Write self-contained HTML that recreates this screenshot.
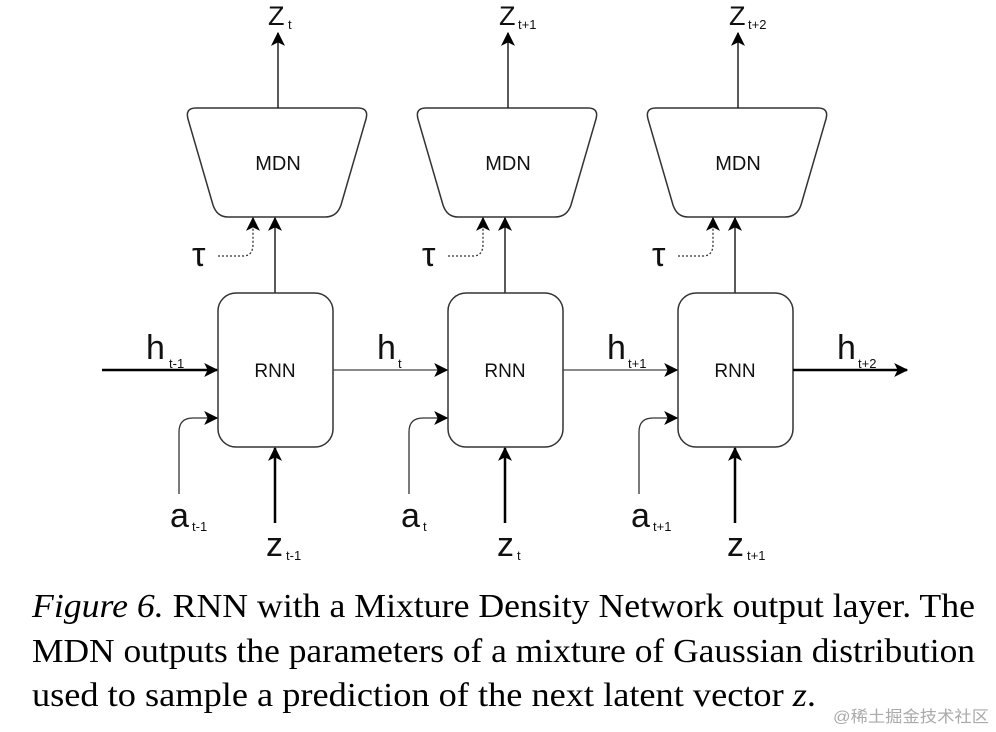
<!DOCTYPE html>
<html><head><meta charset="utf-8"><style>
html,body{margin:0;padding:0;background:#fff;}
svg{display:block;}
.s{font-family:"Liberation Sans",sans-serif;fill:#111;}
.c{font-family:"Liberation Serif",serif;fill:#000;font-size:34px;}
</style></head><body>
<svg width="996" height="732" viewBox="0 0 996 732" xmlns="http://www.w3.org/2000/svg">
<defs>
<marker id="ar" viewBox="0 0 12 12" refX="11" refY="6" markerWidth="14" markerHeight="14" markerUnits="userSpaceOnUse" orient="auto">
<path d="M0,0 L12,6 L0,12 L3,6 Z" fill="#000"/>
</marker>
<g id="col">
<path d="M196,108 H358 Q369,108 366,119 L341,205 Q337,217 325,217 H228 Q217,217 213,205 L188,119 Q185,108 196,108 Z" fill="#fff" stroke="#333" stroke-width="1.5"/>
<text class="s" x="278" y="170" font-size="20" text-anchor="middle">MDN</text>
<line x1="278" y1="108" x2="278" y2="33" stroke="#222" stroke-width="1.5" marker-end="url(#ar)"/>
<line x1="275" y1="293" x2="275" y2="218" stroke="#222" stroke-width="1.5" marker-end="url(#ar)"/>
<path d="M218,256 H243 Q253,256 253,244 V218" fill="none" stroke="#333" stroke-width="1.3" stroke-dasharray="2,2" marker-end="url(#ar)"/>
<text class="s" x="192" y="266" font-size="34">τ</text>
<rect x="218" y="293" width="115" height="154" rx="18" fill="#fff" stroke="#333" stroke-width="1.5"/>
<text class="s" x="275" y="377" font-size="19" text-anchor="middle">RNN</text>
<path d="M179,494 V432 Q179,418 193,418 H217" fill="none" stroke="#333" stroke-width="1.3" marker-end="url(#ar)"/>
<line x1="275" y1="523" x2="275" y2="448" stroke="#000" stroke-width="2.5" marker-end="url(#ar)"/>
</g>
</defs>
<use href="#col"/>
<use href="#col" x="230"/>
<use href="#col" x="460"/>
<line x1="102" y1="370" x2="217" y2="370" stroke="#000" stroke-width="2.5" marker-end="url(#ar)"/>
<line x1="333" y1="370" x2="447" y2="370" stroke="#444" stroke-width="1.3" marker-end="url(#ar)"/>
<line x1="563" y1="370" x2="677" y2="370" stroke="#444" stroke-width="1.3" marker-end="url(#ar)"/>
<line x1="793" y1="370" x2="907" y2="370" stroke="#000" stroke-width="2.5" marker-end="url(#ar)"/>
<g class="s">
<text x="268" y="25" font-size="27">Z</text><text x="288" y="29" font-size="13">t</text>
<text x="499" y="25" font-size="27">Z</text><text x="518" y="29" font-size="13">t+1</text>
<text x="729" y="25" font-size="27">Z</text><text x="748" y="29" font-size="13">t+2</text>
<text x="146" y="359" font-size="34">h</text><text x="169" y="368" font-size="13">t-1</text>
<text x="377" y="359" font-size="34">h</text><text x="398" y="368" font-size="13">t</text>
<text x="607" y="359" font-size="34">h</text><text x="628" y="368" font-size="13">t+1</text>
<text x="837" y="359" font-size="34">h</text><text x="858" y="368" font-size="13">t+2</text>
<text x="170" y="527" font-size="34">a</text><text x="192" y="531" font-size="13">t-1</text>
<text x="401" y="527" font-size="34">a</text><text x="423" y="531" font-size="13">t</text>
<text x="631" y="527" font-size="34">a</text><text x="653" y="531" font-size="13">t+1</text>
<text x="266" y="556" font-size="34">z</text><text x="286" y="560" font-size="13">t-1</text>
<text x="497" y="556" font-size="34">z</text><text x="517" y="560" font-size="13">t</text>
<text x="727" y="556" font-size="34">z</text><text x="747" y="560" font-size="13">t+1</text>
</g>
<text class="c" x="32" y="617" textLength="943" lengthAdjust="spacingAndGlyphs"><tspan font-style="italic">Figure 6.</tspan> RNN with a Mixture Density Network output layer. The</text>
<text class="c" x="32" y="662" textLength="943" lengthAdjust="spacingAndGlyphs">MDN outputs the parameters of a mixture of Gaussian distribution</text>
<text class="c" x="32" y="706" textLength="784" lengthAdjust="spacingAndGlyphs">used to sample a prediction of the next latent vector <tspan font-style="italic">z</tspan>.</text>
<text x="833" y="722" font-size="16" fill="#aaa" font-family="'Liberation Sans','Noto Sans CJK SC',sans-serif" textLength="156" lengthAdjust="spacingAndGlyphs">@稀土掘金技术社区</text>
</svg>
</body></html>
